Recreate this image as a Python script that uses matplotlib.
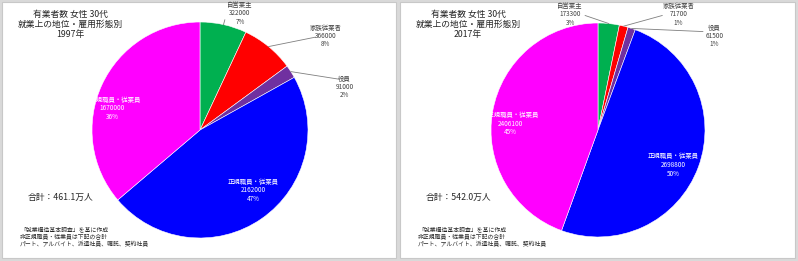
import matplotlib
matplotlib.use("Agg")
import matplotlib.pyplot as plt
from matplotlib.patches import Rectangle
import numpy as np

plt.rcParams['font.family'] = ['Noto Sans CJK JP', 'DejaVu Sans']

categories = ['自営業主', '家族従業者', '役員', '正規職員・従業員', '非正規職員・従業員']
colors = ['#00b050', '#ff0000', '#7030a0', '#0000ff', '#ff00ff']

years = ['1997年', '2017年']
values_1997 = [322000, 366000, 91000, 2162000, 1670000]
values_2017 = [173300, 71700, 61500, 2698800, 2406100]
pct_1997 = ['7%', '8%', '2%', '47%', '36%']
pct_2017 = ['3%', '1%', '1%', '50%', '45%']
totals = ['合計：461.1万人', '合計：542.0万人']

title = '有業者数 女性 30代\n就業上の地位・雇用形態別\n'
note = '「就業構造基本調査」を基に作成\n非正規職員・従業員は下記の合計\nパート、アルバイト、派遣社員、嘱託、契約社員'

# label positions in pie units (centre 0,0, radius 1)
label_pos_1997 = [(0.37, 1.08), (1.16, 0.87), (1.34, 0.40), (0.49, -0.56), (-0.81, 0.20)]
label_pos_2017 = [(-0.26, 1.08), (0.75, 1.08), (1.09, 0.88), (0.70, -0.33), (-0.82, 0.06)]
line_end_1997 = [(0.23, 1.02), (1.07, 0.86), (1.29, 0.47)]
line_end_2017 = [(-0.12, 1.07), (0.60, 1.07), (0.98, 0.92)]

W, H = 798, 261
fig = plt.figure(figsize=(W / 100, H / 100), dpi=100)

# panel frames
fig.patches.append(Rectangle((0, 0), 1, 1, transform=fig.transFigure,
                             facecolor='#d9d9d9', edgecolor='none', zorder=-3))
for x0, x1 in [(2, 396), (400, 795)]:
    fig.patches.append(Rectangle((x0 / W, 3 / H), (x1 - x0) / W, (H - 5) / H,
                                 transform=fig.transFigure, facecolor='white',
                                 edgecolor='#c8c8c8', lw=0.8, zorder=-2))

panels = [
    (values_1997, pct_1997, label_pos_1997, line_end_1997, 200, 108, 0),
    (values_2017, pct_2017, label_pos_2017, line_end_2017, 598, 107, 398),
]

for i, (vals, pcts, lpos, lend, cx, r, off) in enumerate(panels):
    ax = fig.add_axes([(cx - r) / W, (H - 130 - r) / H, 2 * r / W, 2 * r / H])
    wedges, _ = ax.pie(vals, colors=colors, startangle=90, counterclock=False,
                       wedgeprops=dict(edgecolor='white', linewidth=0.4))
    ax.set_xlim(-1, 1)
    ax.set_ylim(-1, 1)
    ax.set_aspect('equal')
    for j, w in enumerate(wedges):
        txt = f'{categories[j]}\n{vals[j]}\n{pcts[j]}'
        if j >= 3:
            ax.text(*lpos[j], txt, ha='center', va='center', fontsize=4.6,
                    color='white', linespacing=1.15, clip_on=False, zorder=5)
        else:
            ang = np.deg2rad((w.theta1 + w.theta2) / 2)
            ax.plot([np.cos(ang), lend[j][0]], [np.sin(ang), lend[j][1]],
                    color='#7f7f7f', lw=0.6, clip_on=False)
            ax.text(*lpos[j], txt, ha='center', va='center', fontsize=4.6,
                    color='#404040', linespacing=1.05, clip_on=False, zorder=5)

    fig.text((70 + off) / W, 1 - 24 / H, title + years[i], ha='center', va='center',
             fontsize=6.3, linespacing=1.15, color='#262626')
    fig.text((28 + off) / W, 1 - 197 / H, totals[i], ha='left', va='center',
             fontsize=6.3, color='#262626')
    fig.text((20 + off) / W, 1 - 237 / H, note, ha='left', va='center',
             fontsize=4.2, linespacing=1.3, color='#262626')

fig.savefig('out.png', dpi=100)
